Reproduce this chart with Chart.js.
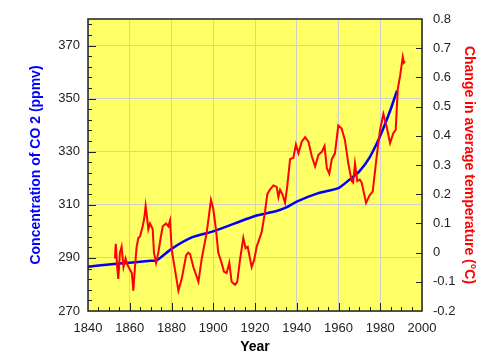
<!DOCTYPE html>
<html>
<head>
<meta charset="utf-8">
<script src="https://cdn.jsdelivr.net/npm/chart.js@4"></script>
<style>
  html, body { margin: 0; padding: 0; background: #fff; }
  #wrap { width: 501px; height: 364px; }
</style>
</head>
<body>
<div id="wrap"><canvas id="chart" width="501" height="364"></canvas></div>
<script>
// CO2 concentration (ppmv)
const co2Years  = [1840, 1850, 1860, 1870, 1873, 1880, 1890, 1900, 1910, 1920, 1930, 1935, 1940, 1950, 1960, 1965, 1970, 1975, 1980, 1985, 1988];
const co2Values = [286.7, 287.5, 288.2, 288.9, 289.1, 293.4, 297.8, 300.0, 302.9, 305.8, 307.6, 309.0, 311.2, 314.3, 316.3, 319.3, 322.6, 328.0, 336.0, 346.0, 353.0];

// temperature change (deg C)
const tempYears = [1852.9, 1853.3, 1854.0, 1854.5, 1855.3, 1856.1, 1857.0, 1858.0, 1858.8, 1860.2, 1861.0, 1861.7, 1862.5, 1863.3,
  1864.1, 1864.9, 1866.2, 1867.0, 1867.6, 1868.3, 1868.9, 1869.7, 1870.4, 1871.0, 1871.6, 1872.6, 1873.7, 1874.8, 1875.8,
  1877.4, 1878.5, 1879.3, 1880.1, 1881.7, 1883.3, 1884.9, 1887.0, 1888.0, 1888.9, 1890.5, 1892.9, 1894.5, 1896.9, 1898.9,
  1900.0, 1901.3, 1902.4, 1904.0, 1905.1, 1906.4, 1907.7, 1908.8, 1910.4, 1911.5, 1912.8, 1914.4, 1915.5, 1916.5, 1918.4,
  1919.6, 1920.8, 1923.2, 1924.8, 1925.9, 1927.1, 1928.8, 1930.4, 1931.2, 1932.0, 1933.1, 1934.4, 1935.5, 1936.8, 1938.4,
  1939.6, 1940.8, 1942.4, 1944.0, 1945.6, 1947.2, 1948.8, 1950.4, 1952.0, 1953.3, 1954.4, 1955.6, 1956.8, 1958.3, 1959.9,
  1961.5, 1963.1, 1964.7, 1966.3, 1967.0, 1967.9, 1969.0, 1970.2, 1971.1, 1973.2, 1974.8, 1976.4, 1978.3, 1979.9, 1981.5,
  1983.1, 1984.7, 1986.3, 1987.4, 1988.4, 1989.5, 1990.8, 1991.3, 1991.9];
const tempValues = [-0.02, 0.03, -0.05, -0.09, 0.0, 0.02, -0.05, -0.02, -0.04, -0.06, -0.07, -0.13, -0.05, 0.02,
  0.05, 0.055, 0.09, 0.12, 0.16, 0.12, 0.08, 0.10, 0.09, 0.08, 0.0, -0.035, 0.0, 0.05, 0.09,
  0.10, 0.09, 0.11, 0.01, -0.06, -0.13, -0.09, -0.01, 0.0, -0.005, -0.05, -0.10, -0.02, 0.07, 0.18,
  0.15, 0.08, 0.0, -0.035, -0.065, -0.07, -0.035, -0.10, -0.11, -0.10, -0.025, 0.05, 0.015, 0.02, -0.05,
  -0.025, 0.02, 0.07, 0.14, 0.20, 0.215, 0.23, 0.225, 0.19, 0.215, 0.20, 0.17, 0.23, 0.32, 0.325,
  0.37, 0.34, 0.38, 0.395, 0.38, 0.33, 0.295, 0.335, 0.345, 0.365, 0.29, 0.27, 0.32, 0.34, 0.435,
  0.425, 0.385, 0.305, 0.245, 0.24, 0.305, 0.245, 0.25, 0.24, 0.17, 0.195, 0.21, 0.33, 0.42, 0.475,
  0.43, 0.375, 0.41, 0.42, 0.56, 0.605, 0.67, 0.65, 0.655];

const co2Ticks = [270, 290, 310, 330, 350, 370];

// yellow plot area, frame and the small inside ticks
const framePlugin = {
  id: 'frame',
  beforeDraw(chart) {
    const a = chart.chartArea, ctx = chart.ctx;
    ctx.save();
    ctx.fillStyle = '#ffff66';
    ctx.fillRect(a.left, a.top, a.right - a.left, a.bottom - a.top);
    ctx.restore();
  },
  afterDatasetsDraw(chart) {
    const a = chart.chartArea, ctx = chart.ctx;
    const sx = chart.scales.x, sy = chart.scales.y, sy1 = chart.scales.y1;
    ctx.save();
    ctx.strokeStyle = '#222';
    ctx.lineWidth = 1;
    ctx.beginPath();
    for (let yr = 1845; yr < 2000; yr += 5) {
      const px = Math.round(sx.getPixelForValue(yr)) + 0.5;
      const len = (yr % 20 === 0) ? 8 : 4;
      ctx.moveTo(px, a.bottom); ctx.lineTo(px, a.bottom - len);
    }
    for (let v = 274; v < 380; v += 4) {
      const py = Math.round(sy.getPixelForValue(v)) + 0.5;
      const len = ((v - 270) % 20 === 0) ? 8 : 4;
      ctx.moveTo(a.left, py); ctx.lineTo(a.left + len, py);
    }
    for (let i = 1; i < 10; i++) {
      const py = Math.round(sy1.getPixelForValue(-0.2 + i / 10)) + 0.5;
      ctx.moveTo(a.right, py); ctx.lineTo(a.right - 6, py);
    }
    ctx.stroke();
    ctx.lineWidth = 1.5;
    ctx.strokeRect(a.left, a.top, a.right - a.left, a.bottom - a.top);
    ctx.restore();
  }
};

const tickFont = { family: 'Liberation Sans, Arial, sans-serif', size: 13 };
const titleFont = { family: 'Liberation Sans, Arial, sans-serif', size: 14, weight: 'bold' };

new Chart(document.getElementById('chart'), {
  type: 'line',
  data: {
    datasets: [
      {
        label: 'Temperature',
        data: tempYears.map((y, i) => ({ x: y, y: tempValues[i] })),
        yAxisID: 'y1',
        borderColor: '#ff0000',
        borderWidth: 2,
        pointRadius: 0,
        tension: 0
      },
      {
        label: 'CO2',
        data: co2Years.map((y, i) => ({ x: y, y: co2Values[i] })),
        yAxisID: 'y',
        borderColor: '#0000ff',
        borderWidth: 2.5,
        pointRadius: 0,
        tension: 0.2
      }
    ]
  },
  options: {
    responsive: false,
    animation: false,
    layout: { padding: { top: 19, left: 0, right: 0, bottom: 0 } },
    plugins: { legend: { display: false }, tooltip: { enabled: false } },
    scales: {
      x: {
        type: 'linear',
        min: 1840, max: 2000,
        ticks: { stepSize: 20, color: '#222', font: tickFont, padding: 10, maxRotation: 0, callback: v => String(v) },
        grid: { color: '#d0d0d0', drawTicks: false },
        border: { display: false },
        title: { display: true, text: 'Year', color: '#000', font: titleFont, padding: { top: 0, bottom: 8 } },
        afterFit: s => { s.height = 53; }
      },
      y: {
        position: 'left',
        min: 270, max: 380,
        afterBuildTicks: s => { s.ticks = co2Ticks.map(v => ({ value: v })); },
        ticks: { color: '#222', font: tickFont, padding: 8 },
        grid: { color: '#d0d0d0', drawTicks: false },
        border: { display: false },
        title: { display: true, text: 'Concentration of CO 2 (ppmv)', color: '#0000ff', font: titleFont, padding: { top: 28, bottom: 0 } },
        afterFit: s => { s.width = 88; }
      },
      y1: {
        position: 'right',
        min: -0.2, max: 0.8,
        ticks: { stepSize: 0.1, color: '#222', font: tickFont, padding: 11, callback: v => String(+v.toFixed(1)) },
        grid: { drawOnChartArea: false, drawTicks: false },
        border: { display: false },
        title: { display: true, text: 'Change in average temperature (\u00b0C)', color: '#ff0000', font: titleFont, padding: { top: 24, bottom: 0 } },
        afterFit: s => { s.width = 79; }
      }
    }
  },
  plugins: [framePlugin]
});
</script>
</body>
</html>
